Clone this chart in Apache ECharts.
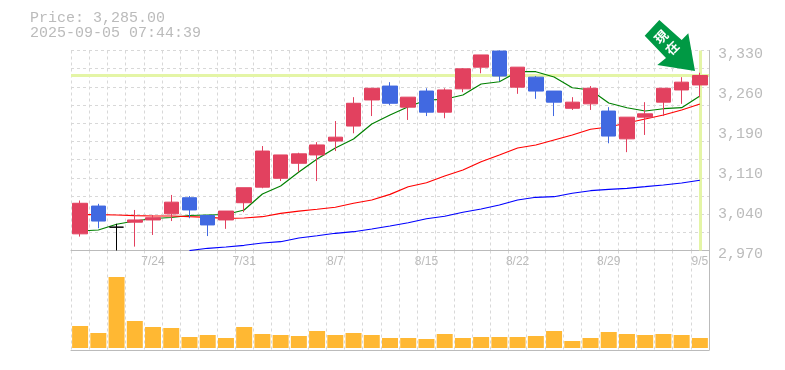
<!DOCTYPE html>
<html>
<head>
<meta charset="utf-8">
<style>html,body{margin:0;padding:0;background:#fff}#chart{width:785px;height:370px}</style>
<script src="https://cdn.jsdelivr.net/npm/echarts@6/dist/echarts.min.js"></script>
</head>
<body>
<div id="chart"></div>
<script>
var categories = ['7/17','7/18','7/22','7/23','7/24','7/25','7/28','7/29','7/30','7/31','8/1','8/4','8/5','8/6','8/7','8/8','8/12','8/13','8/14','8/15','8/18','8/19','8/20','8/21','8/22','8/25','8/26','8/27','8/28','8/29','9/1','9/2','9/3','9/4','9/5'];
var shownDates = ['7/24','7/31','8/7','8/15','8/22','8/29','9/5'];
var priceTicks = [2970,3042,3114,3186,3258,3330];
// open, close, low, high
var candles = [
	[3000,3055,2995,3060],[3050,3023,3010,3054],[3012,3012,2970,3018],[3021,3025,2977,3043],[3025,3029,2998,3034],
	[3036,3057,3023,3070],[3065,3043,3028,3068],[3033,3016,2996,3034],[3025,3041,3009,3041],[3056,3083,3039,3083],
	[3084,3149,3082,3158],[3100,3142,3095,3142],[3127,3144,3111,3146],[3142,3160,3095,3165],[3167,3174,3149,3203],
	[3194,3235,3181,3246],[3241,3262,3212,3262],[3266,3235,3232,3273],[3228,3246,3205,3246],[3257,3219,3212,3262],
	[3219,3259,3208,3262],[3261,3297,3255,3298],[3300,3322,3289,3322],[3329,3284,3275,3330],[3264,3300,3252,3300],
	[3282,3257,3243,3284],[3257,3237,3212,3257],[3226,3237,3223,3246],[3234,3262,3223,3266],[3221,3176,3163,3228],
	[3171,3210,3147,3210],[3210,3216,3178,3237],[3237,3262,3212,3262],[3259,3273,3234,3282],[3268,3285,3246,3290]
];
var maShort = [3005.1,3006.9,3017.2,3023.1,3027.6,3029.4,3033,3033.9,3034.8,3042.9,3071.7,3086.1,3111.3,3134.7,3154.5,3170.7,3197.7,3213.9,3228.8,3240.9,3242.2,3249.9,3269.7,3273.8,3291.8,3291.8,3282.3,3263,3258.9,3235.5,3227,3221.1,3225.2,3227,3248.1];
var maMid = [3034.4,3034.4,3033.9,3032.6,3032.1,3032.1,3030.8,3029.8,3028,3028.5,3030.8,3036.9,3041,3044.2,3047.8,3055,3060.9,3071.1,3084.8,3092,3104,3114.9,3129.8,3141.9,3154.5,3159.9,3168.9,3177.9,3188.2,3192.3,3199.5,3206.7,3213.9,3222.9,3233.7];
var maLong = [null,null,null,null,null,null,2970,2974,2976.3,2979.4,2983.5,2985.8,2992.5,2996.6,3001,3003.8,3008.7,3014.1,3020,3027.2,3031.6,3038.8,3044.7,3051.9,3060.9,3065.8,3066.8,3073,3077.6,3080.2,3082,3084.8,3087.9,3091.5,3096.4];
var volumes = [22,15,71,27,21,20,11,13,10,21,14,13,12,17,13,15,13,10,10,9,14,10,11,11,11,12,17,7,10,16,14,13,14,13,10];
var lastPrice = 3285;

var gridLine = { show: true, lineStyle: { color: '#d8d8d8', type: [3,3], width: 1 } };
var frameLine = { show: true, lineStyle: { color: '#bbbbbb', width: 1 } };
var monoFont = '"Liberation Mono", monospace';

var chart = echarts.init(document.getElementById('chart'));
chart.setOption({
	animation: false,
	backgroundColor: '#fff',
	title: {
		left: 30, top: 11, padding: 0,
		text: 'Price: 3,285.00\n2025-09-05 07:44:39',
		textStyle: { color: '#bbbbbb', fontFamily: monoFont, fontSize: 15, fontWeight: 'normal', lineHeight: 15 }
	},
	grid: [
		{ left: 71, top: 50.5, width: 638, height: 200 },
		{ left: 71, top: 250.5, width: 638, height: 99.5 }
	],
	xAxis: [
		{
			type: 'category', gridIndex: 0, data: categories, boundaryGap: true,
			axisLine: frameLine, axisTick: { show: false }, splitLine: Object.assign({ interval: 0 }, gridLine),
			axisLabel: {
				margin: 5, color: '#bbbbbb', fontSize: 12, fontFamily: '"Liberation Sans Narrow", "Liberation Sans", sans-serif',
				interval: function (i) { return shownDates.indexOf(categories[i]) >= 0; }
			}
		},
		{
			type: 'category', gridIndex: 1, data: categories, boundaryGap: true,
			axisLine: Object.assign({ onZero: false }, frameLine), axisTick: { show: false },
			splitLine: Object.assign({ interval: 0 }, gridLine), axisLabel: { show: false }
		}
	],
	yAxis: [
		{
			type: 'value', gridIndex: 0, position: 'right', min: 2970, max: 3330,
			axisLine: frameLine, axisTick: { show: false, customValues: priceTicks }, splitLine: { show: false },
			axisLabel: {
				customValues: priceTicks, margin: 9, color: '#bbbbbb', fontFamily: monoFont, fontSize: 15,
				verticalAlign: 'top', lineHeight: 7,
				formatter: function (v) { return (Math.round(v / 10) * 10).toLocaleString('en-US'); }
			}
		},
		{
			// only for the 11 horizontal rows of the background grid
			type: 'value', gridIndex: 0, position: 'right', min: 0, max: 11, interval: 1,
			axisLine: { show: false }, axisTick: { show: false }, axisLabel: { show: false }, splitLine: gridLine
		},
		{
			type: 'value', gridIndex: 1, position: 'right', min: -2, max: 97.5,
			axisLine: frameLine, axisTick: { show: false }, axisLabel: { show: false }, splitLine: { show: false }
		}
	],
	series: [
		{
			name: 'guide', type: 'line', xAxisIndex: 0, yAxisIndex: 0, data: [], z: 1,
			markLine: {
				silent: true, z: 1, symbol: 'none', label: { show: false },
				lineStyle: { color: '#e4f5a6', width: 3, type: 'solid' },
				data: [{ yAxis: lastPrice }, { xAxis: categories.length - 1 }]
			}
		},
		{ name: 'ma5', type: 'line', xAxisIndex: 0, yAxisIndex: 0, data: maShort, showSymbol: false, z: 2, lineStyle: { color: '#008000', width: 1.2 } },
		{ name: 'ma25', type: 'line', xAxisIndex: 0, yAxisIndex: 0, data: maMid, showSymbol: false, z: 2, lineStyle: { color: '#ff0000', width: 1.2 } },
		{ name: 'ma75', type: 'line', xAxisIndex: 0, yAxisIndex: 0, data: maLong, showSymbol: false, z: 2, lineStyle: { color: '#0000ff', width: 1.2 } },
		{
			name: 'price', type: 'candlestick', xAxisIndex: 0, yAxisIndex: 0, data: candles, barWidth: 15, z: 3,
			itemStyle: {
				color: '#e2415f', borderColor: '#e2415f', color0: '#4169e1', borderColor0: '#4169e1',
				borderColorDoji: '#000000', borderWidth: 1
			}
		},
		{
			name: 'volume', type: 'bar', xAxisIndex: 1, yAxisIndex: 2, data: volumes, barWidth: 16,
			itemStyle: { color: '#ffb833' }
		}
	],
	graphic: [
		{
			type: 'polygon', z: 20,
			shape: { points: [[659.3,20],[644.7,35.7],[666,58],[657.3,65],[695,71],[688.3,33.3],[681.7,40]] },
			style: { fill: '#009944' }
		},
		{
			type: 'text', z: 21, x: 661, y: 37, rotation: Math.PI / 4,
			style: { text: '現', fill: '#fff', font: 'bold 13px "Noto Sans CJK JP"', align: 'center', verticalAlign: 'middle' }
		},
		{
			type: 'text', z: 21, x: 672, y: 48, rotation: Math.PI / 4,
			style: { text: '在', fill: '#fff', font: 'bold 13px "Noto Sans CJK JP"', align: 'center', verticalAlign: 'middle' }
		}
	]
});
</script>
</body>
</html>
